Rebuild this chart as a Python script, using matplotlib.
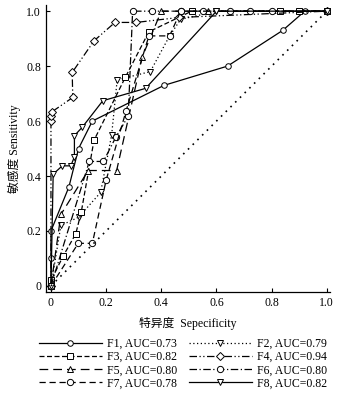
import numpy as np
import matplotlib
matplotlib.use("Agg")
import matplotlib.pyplot as plt

plt.rcParams['font.family'] = ['Liberation Serif', 'Noto Sans CJK SC']

# ROC curves: (1 - specificity, sensitivity)
f1_x = [0, 0, 0, 0.065, 0.10, 0.15, 0.41, 0.64, 0.84, 0.92, 1.0]
f1_y = [0, 0.10, 0.20, 0.36, 0.50, 0.60, 0.73, 0.80, 0.93, 1.0, 1.0]
f2_x = [0, 0.036, 0.10, 0.18, 0.22, 0.24, 0.36, 0.43, 0.47, 0.60, 1.0]
f2_y = [0, 0.22, 0.25, 0.34, 0.55, 0.75, 0.78, 0.91, 0.97, 1.0, 1.0]
f3_x = [0, 0, 0.045, 0.09, 0.11, 0.156, 0.27, 0.355, 0.51, 0.83, 0.90, 1.0]
f3_y = [0, 0.02, 0.11, 0.19, 0.27, 0.53, 0.76, 0.925, 1.0, 1.0, 1.0, 1.0]
f4_x = [0, 0, 0, 0.004, 0.079, 0.077, 0.156, 0.232, 0.309, 0.463, 1.0]
f4_y = [0, 0.60, 0.62, 0.634, 0.686, 0.777, 0.892, 0.959, 0.959, 0.977, 1.0]
f5_x = [0, 0.036, 0.135, 0.238, 0.331, 0.40, 0.57, 1.0]
f5_y = [0, 0.26, 0.42, 0.42, 0.834, 1.0, 1.0, 1.0]
f6_x = [0, 0.139, 0.19, 0.236, 0.28, 0.296, 0.365, 0.47, 0.55, 0.65, 0.72, 1.0]
f6_y = [0, 0.453, 0.453, 0.543, 0.618, 1.0, 1.0, 1.0, 1.0, 1.0, 1.0, 1.0]
f7_x = [0, 0.099, 0.15, 0.20, 0.272, 0.355, 0.43, 0.47, 0.80, 1.0]
f7_y = [0, 0.155, 0.155, 0.385, 0.636, 0.91, 0.91, 1.0, 1.0, 1.0]
f8_x = [0, 0.008, 0.041, 0.072, 0.085, 0.085, 0.113, 0.188, 0.343, 0.60, 1.0]
f8_y = [0, 0.407, 0.437, 0.437, 0.47, 0.547, 0.577, 0.674, 0.719, 1.0, 1.0]

labels = ['F1, AUC=0.73', 'F2, AUC=0.79', 'F3, AUC=0.82', 'F4, AUC=0.94',
          'F5, AUC=0.80', 'F6, AUC=0.80', 'F7, AUC=0.78', 'F8, AUC=0.82']
xs = [f1_x, f2_x, f3_x, f4_x, f5_x, f6_x, f7_x, f8_x]
ys = [f1_y, f2_y, f3_y, f4_y, f5_y, f6_y, f7_y, f8_y]
styles = ['-', (0, (1, 2)), (0, (4, 2)), (0, (6, 2, 1, 2, 1, 2)),
          (0, (7, 4)), (0, (6, 2, 1, 2)), (0, (5, 3)), '-']
markers = ['o', 'v', 's', 'D', '^', 'o', 'o', 'v']
msizes = [4, 5, 5, 4.5, 5, 4.5, 4.5, 5]

fig = plt.figure(figsize=(3.42, 3.94), dpi=100)
ax = fig.add_axes([0.1345, 0.259, 0.83, 0.728])

handles = {}
for i in range(8):
    h, = ax.plot(xs[i], ys[i], linestyle=styles[i], color='black', lw=0.9,
                 marker=markers[i], markersize=msizes[i], markerfacecolor='white',
                 markeredgecolor='black', markeredgewidth=0.7)
    handles[i] = h

# chance line
ax.plot([0, 1], [0, 1], linestyle=(0, (1, 3)), color='black', lw=1.2)

ax.set_xlim(-0.018, 1.011)
ax.set_ylim(-0.022, 1.022)
ticks = [0, 0.2, 0.4, 0.6, 0.8, 1.0]
ticklab = ['0', '0.2', '0.4', '0.6', '0.8', '1.0']
ax.set_xticks(ticks)
ax.set_xticklabels(ticklab)
ax.set_yticks(ticks)
ax.set_yticklabels(ticklab)
ax.tick_params(direction='in', length=3, labelsize=8.5, width=0.8)
ax.spines['top'].set_visible(False)
ax.spines['right'].set_visible(False)
for s in ['left', 'bottom']:
    ax.spines[s].set_linewidth(0.9)

ax.set_xlabel('特异度  Sepecificity', fontsize=8.5, labelpad=6)
ax.set_ylabel('敏感度 Sensitivity', fontsize=8.5, labelpad=4)

order = [0, 2, 4, 6, 1, 3, 5, 7]
fig.legend([handles[i] for i in order], [labels[i] for i in order],
           loc='upper center', bbox_to_anchor=(0.535, 0.16), ncol=2,
           frameon=False, fontsize=8.5, handlelength=5.3, handletextpad=0.45,
           columnspacing=1.0, labelspacing=0.1, borderpad=0.1)

fig.savefig('out.png', dpi=100)
